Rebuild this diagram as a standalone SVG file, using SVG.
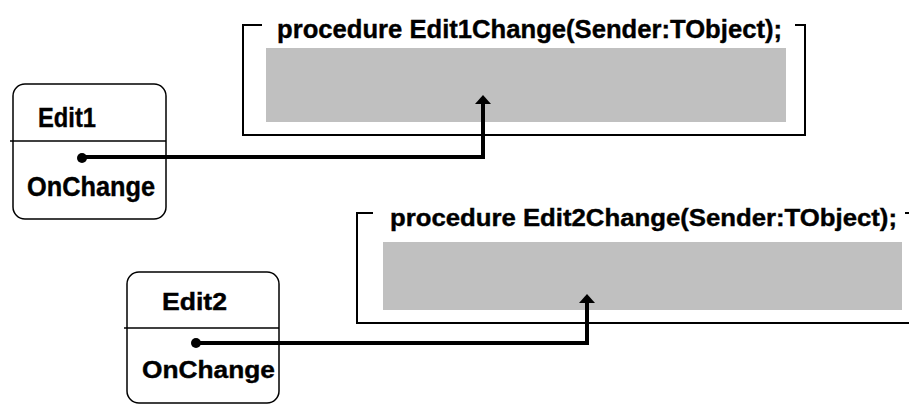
<svg xmlns="http://www.w3.org/2000/svg" width="909" height="406" viewBox="0 0 909 406">
<style>
.t{font-family:"Liberation Sans",Arial,sans-serif;font-weight:bold;fill:#000;stroke:#000;stroke-width:0.4}
.box{fill:#fff;stroke:#000;stroke-width:1.5}
.frame{fill:none;stroke:#000;stroke-width:2}
.gray{fill:#c0c0c0;stroke:none}
.conn{fill:none;stroke:#000;stroke-width:4}
</style>
<rect width="909" height="406" fill="#fff"/>
<g id="proc1">
<polyline class="frame" points="262,25 243,25 243,135 805,135 805,25 795,25"/>
<rect class="gray" x="266" y="48" width="520" height="74"/>
<text class="t" x="277" y="38" font-size="26" textLength="505" lengthAdjust="spacingAndGlyphs">procedure Edit1Change(Sender:TObject);</text>
</g>
<g id="proc2">
<polyline class="frame" points="373,213 357,213 357,323 909,323"/>
<line class="frame" x1="905" y1="213" x2="909" y2="213"/>
<rect class="gray" x="383" y="242" width="519" height="68"/>
<text class="t" x="390" y="226" font-size="24" textLength="507" lengthAdjust="spacingAndGlyphs">procedure Edit2Change(Sender:TObject);</text>
</g>
<g id="edit1">
<rect class="box" x="13" y="84" width="153" height="135" rx="12"/>
<line stroke="#000" stroke-width="1.5" x1="10" y1="141" x2="166" y2="141"/>
<text class="t" x="38" y="127" font-size="28" textLength="58" lengthAdjust="spacingAndGlyphs">Edit1</text>
<text class="t" x="27" y="196" font-size="27" textLength="128" lengthAdjust="spacingAndGlyphs">OnChange</text>
</g>
<g id="edit2">
<rect class="box" x="127" y="272" width="152" height="131" rx="12"/>
<line stroke="#000" stroke-width="1.5" x1="124" y1="328" x2="279" y2="328"/>
<text class="t" x="162" y="310" font-size="23" textLength="65" lengthAdjust="spacingAndGlyphs">Edit2</text>
<text class="t" x="142" y="378" font-size="24" textLength="133" lengthAdjust="spacingAndGlyphs">OnChange</text>
</g>
<g id="connectors">
<circle cx="82" cy="158" r="5" fill="#000"/>
<polyline class="conn" points="82,157 483,157 483,102"/>
<polygon points="483,95 475,104 491,104" fill="#000"/>
<circle cx="196" cy="343" r="5" fill="#000"/>
<polyline class="conn" points="196,343 587,343 587,301"/>
<polygon points="587,294 579,303 595,303" fill="#000"/>
</g>
</svg>
